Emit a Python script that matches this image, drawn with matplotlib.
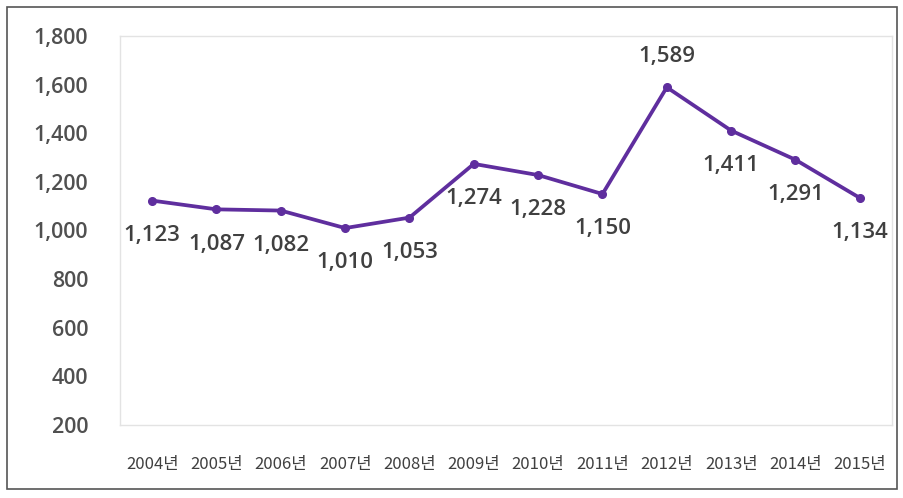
import matplotlib
matplotlib.use('Agg')
import matplotlib.pyplot as plt
from matplotlib.patches import Rectangle

# DATA
# ----
years = ['2004년', '2005년', '2006년', '2007년', '2008년', '2009년',
         '2010년', '2011년', '2012년', '2013년', '2014년', '2015년']
values = [1123, 1087, 1082, 1010, 1053, 1274, 1228, 1150, 1589, 1411, 1291, 1134]
y_ticks = [200, 400, 600, 800, 1000, 1200, 1400, 1600, 1800]
# ----

plt.rcParams['font.family'] = ['Noto Sans CJK KR', 'DejaVu Sans']

fig = plt.figure(figsize=(9.04, 4.98), dpi=100)
ax = fig.add_axes([0.1327, 0.1466, 0.8540, 0.7811])

x = list(range(len(years)))
line_color = '#5f2e9e'
ax.plot(x, values, color=line_color, lw=2.7, marker='o', ms=5.5,
        markerfacecolor=line_color, markeredgecolor=line_color, zorder=3)

# data labels: all below the point except the peak
for i, v in enumerate(values):
    dy = 22 if v == max(values) else -25
    ax.annotate('{:,}'.format(v), (i, v), xytext=(0, dy), textcoords='offset points',
                ha='center', va='center', fontsize=16, color='#404040',
                family=['Open Sans', 'DejaVu Sans'], fontweight='semibold')

ax.set_xlim(-0.5, len(years) - 0.5)
ax.set_ylim(200, 1800)
ax.set_yticks(y_ticks)
ax.set_yticklabels(['{:,}'.format(t) for t in y_ticks], fontsize=15.5,
                   color='#505050', family=['Open Sans', 'DejaVu Sans'],
                   fontweight='semibold')
ax.set_xticks(x)
ax.set_xticklabels(years, fontsize=12, color='#404040', fontweight='medium')
ax.tick_params(axis='y', length=0, pad=23)
ax.tick_params(axis='x', length=0, pad=22)

for s in ax.spines.values():
    s.set_color('#e3e3e3')
    s.set_linewidth(1)

# outer frame of the picture
fig.patches.append(Rectangle((7 / 904, 9 / 498), 890 / 904, 482 / 498,
                             transform=fig.transFigure, fill=False,
                             edgecolor='#555555', lw=1.2))

fig.savefig('out.png', dpi=100)
